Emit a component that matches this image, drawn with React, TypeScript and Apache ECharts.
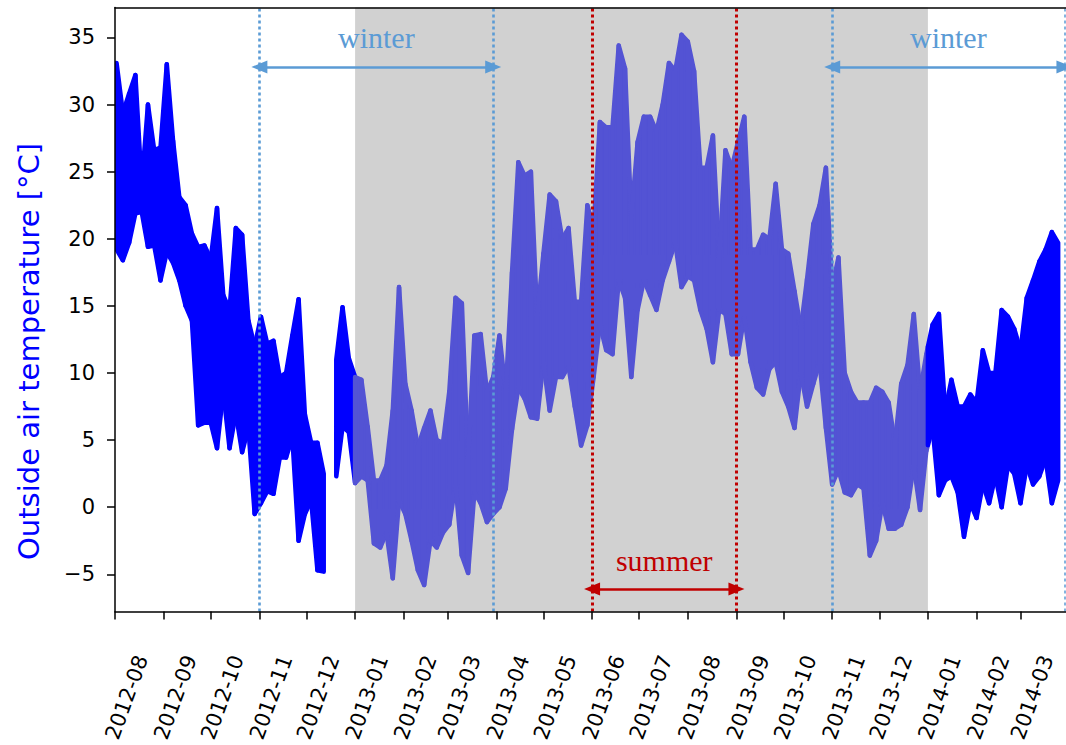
import React, { useEffect, useRef } from 'react';
import * as echarts from 'echarts';

// ---------- data ----------
const monthLabels = [
  '2012-08', '2012-09', '2012-10', '2012-11', '2012-12',
  '2013-01', '2013-02', '2013-03', '2013-04', '2013-05', '2013-06', '2013-07',
  '2013-08', '2013-09', '2013-10', '2013-11', '2013-12',
  '2014-01', '2014-02', '2014-03',
];
const yTicks = [-5, 0, 5, 10, 15, 20, 25, 30, 35];
const xRange = ['2012-08-01', '2014-03-30'];
const yRange = [-7.76, 37.23];

// Envelope of the measured temperature, one high and one low per 4-day block
const seriesStart = '2012-08-01';
const blockDays = 4;
const blockHighs: (number | null)[] = [
  33.1, 29.4, 30.8, 32.2, 24.0, 30.0, 26.6, 26.8, 33.0, 27.3,
  23.1, 22.5, 20.4, 19.4, 19.5, 18.5, 22.3, 15.8, 14.7, 20.8,
  20.3, 13.9, 12.0, 14.2, 12.2, 12.4, 9.7, 10.0, 12.8, 15.5,
  6.9, 4.8, 4.8, 2.5, null, 11.0, 14.9, 11.1, 9.7, 9.5,
  6.0, 2.0, 2.0, 3.1, 7.2, 16.4, 9.2, 7.2, 4.5, 5.9,
  7.2, 5.0, 4.8, 8.6, 15.6, 15.2, 3.6, 12.8, 12.9, 8.6,
  9.7, 12.8, 8.6, 17.5, 25.7, 24.7, 25.0, 14.2, 18.9, 23.3,
  22.8, 20.0, 20.8, 15.3, 15.3, 22.5, 20.8, 28.7, 28.3, 28.3,
  34.4, 32.7, 21.6, 27.2, 29.1, 29.1, 28.0, 30.0, 33.1, 32.5,
  35.2, 34.7, 32.5, 25.3, 25.3, 27.7, 18.6, 26.6, 25.3, 27.2,
  29.1, 19.2, 19.2, 20.3, 20.0, 24.1, 19.2, 18.9, 16.1, 13.3,
  17.0, 21.1, 22.5, 25.3, 16.4, 18.6, 10.0, 8.6, 7.8, 7.8,
  7.8, 8.9, 8.6, 7.8, 4.8, 9.2, 10.6, 14.4, 8.6, 11.4,
  13.6, 14.4, 7.2, 9.5, 7.5, 7.5, 8.4, 7.8, 11.7, 10.0,
  10.0, 14.7, 14.2, 13.3, 11.7, 15.6, 16.9, 18.3, 19.2, 20.5,
  19.7,
];
const blockLows: (number | null)[] = [
  19.2, 18.4, 19.7, 21.9, 22.0, 19.4, 19.5, 16.9, 19.0, 18.2,
  16.9, 15.0, 13.9, 6.1, 6.3, 6.3, 4.4, 8.6, 4.4, 7.0,
  4.1, 5.9, -0.5, 0.3, 1.2, 1.0, 3.7, 3.7, 5.2, -2.5,
  -0.5, 0.5, -4.7, -4.8, null, 2.3, 6.0, 5.6, 1.8, 2.3,
  2.0, -2.7, -3.0, -1.9, -5.3, 0.5, -0.5, -2.5, -4.7, -5.8,
  -2.5, -3.0, -1.9, -1.3, 1.7, -3.6, -4.9, 1.1, 0.3, -1.1,
  -0.5, 0.0, 1.4, 5.8, 8.9, 8.1, 6.7, 6.6, 10.8, 7.2,
  9.7, 9.7, 10.5, 7.5, 4.6, 6.1, 9.7, 13.6, 11.7, 11.4,
  16.9, 15.6, 9.7, 14.7, 16.9, 15.8, 14.7, 16.9, 18.3, 19.7,
  16.4, 17.2, 16.9, 14.7, 13.3, 10.8, 14.7, 14.4, 11.4, 11.4,
  14.2, 10.8, 8.9, 8.4, 10.3, 10.8, 8.6, 7.5, 5.9, 10.0,
  7.5, 9.2, 10.8, 5.9, 1.7, 2.8, 1.1, 0.9, 1.7, 1.4,
  -3.6, -2.5, 0.3, -1.6, -1.6, -1.3, 0.0, 3.1, -0.2, 4.2,
  5.9, 0.9, 2.0, 2.3, 1.1, -2.2, 0.3, -0.8, 1.7, 0.3,
  2.3, 0.0, 3.1, 2.5, 0.3, 3.1, 1.7, 2.3, 3.6, 0.3,
  2.0,
];

const shadeRange = ['2013-01-01', '2014-01-01'];
const winterSpans = [
  ['2012-11-01', '2013-03-30'],
  ['2013-11-01', '2014-03-29'],
];
const summerSpan = ['2013-06-01', '2013-09-01'];
const winterArrowLevel = 32.8;
const summerArrowLevel = -6.1;

// ---------- helpers ----------
const ts = (s: string, addDays = 0) => {
  const [y, m, d] = s.split('-').map(Number);
  return new Date(y, m - 1, (d || 1) + addDays).getTime();
};

const BLUE = '#0000ff';
const SHADED_BLUE = '#5353d4';
const GREY = '#d1d1d1';
const WINTER = '#5b9bd5';
const SUMMER = '#c00000';

export default function App() {
  const ref = useRef<HTMLDivElement>(null);

  useEffect(() => {
    if (!ref.current) return;
    const chart = echarts.init(ref.current, undefined, { renderer: 'svg' });

    const t0 = ts(shadeRange[0]);
    const t1 = ts(shadeRange[1]);

    // band segments: [t, low, high, tNext, lowNext, highNext]
    const segments: number[][] = [];
    for (let i = 0; i < blockHighs.length - 1; i++) {
      const h = blockHighs[i], l = blockLows[i];
      const hn = blockHighs[i + 1], ln = blockLows[i + 1];
      if (h == null || l == null || hn == null || ln == null) continue;
      segments.push([
        ts(seriesStart, i * blockDays + 1), l, h,
        ts(seriesStart, (i + 1) * blockDays + 1), ln, hn,
      ]);
    }

    const colorAt = (t: number) => (t >= t0 && t < t1 ? SHADED_BLUE : BLUE);

    const renderBand = (_params: any, api: any) => {
      const t = api.value(0), l = api.value(1), h = api.value(2);
      const tn = api.value(3), ln = api.value(4), hn = api.value(5);
      const poly = (a: number, la: number, ha: number, b: number, lb: number, hb: number, c: string) => ({
        type: 'polygon',
        shape: { points: [api.coord([a, ha]), api.coord([b, hb]), api.coord([b, lb]), api.coord([a, la])] },
        style: { fill: c, stroke: c, lineWidth: 4.5, lineJoin: 'round' },
      });
      const cuts = [t0, t1].filter((c) => c > t && c < tn);
      if (!cuts.length) return poly(t, l, h, tn, ln, hn, colorAt(t));
      const c = cuts[0];
      const f = (c - t) / (tn - t);
      const lc = l + (ln - l) * f, hc = h + (hn - h) * f;
      return {
        type: 'group',
        children: [poly(t, l, h, c, lc, hc, colorAt(t)), poly(c, lc, hc, tn, ln, hn, colorAt(c))],
      };
    };

    const monthTs = monthLabels.map((m) => ts(m));
    const labelOf = (v: number) => {
      const idx = monthTs.indexOf(v);
      if (idx >= 0) return monthLabels[idx];
      const d = new Date(v);
      return `${d.getFullYear()}-${String(d.getMonth() + 1).padStart(2, '0')}`;
    };

    const vLine = (date: string, color: string, width = 2.6) => ({
      xAxis: ts(date),
      lineStyle: { color, type: [3, 3], width },
      label: { show: false },
    });

    const arrow = (a: string, b: string, level: number, color: string, text: string) => [
      {
        coord: [ts(a), level],
        symbol: 'triangle',
        symbolSize: [13, 16],
        lineStyle: { color, type: 'solid', width: 2.6 },
        itemStyle: { color },
        label: {
          show: true,
          position: 'middle',
          formatter: text,
          color,
          fontSize: 30,
          fontFamily: 'Liberation Serif',
          distance: 14,
        },
      },
      { coord: [ts(b), level], symbol: 'triangle', symbolSize: [13, 16] },
    ];

    const option: any = {
      animation: false,
      backgroundColor: '#ffffff',
      grid: { left: 115, right: 0, top: 7.5, bottom: 133, containLabel: false },
      xAxis: [
        {
          type: 'value',
          z: 10,
          min: ts(xRange[0]),
          max: ts(xRange[1]),
          axisLine: { show: true, onZero: false, lineStyle: { color: '#000', width: 1.5 } },
          axisTick: {
            show: true,
            customValues: monthTs,
            length: 8,
            lineStyle: { color: '#000', width: 1.5 },
          },
          axisLabel: {
            customValues: monthTs,
            formatter: (v: number) => labelOf(v),
            rotate: 70,
            fontSize: 21,
            fontFamily: 'DejaVu Sans',
            color: '#000',
            margin: 35,
            verticalAlign: 'top',
            padding: [18, 0, 0, 0],
          },
          splitLine: { show: false },
        },
        {
          type: 'value',
          z: 10,
          position: 'top',
          min: 0,
          max: 1,
          axisLine: { show: true, onZero: false, lineStyle: { color: '#000', width: 1.5 } },
          axisTick: { show: false },
          axisLabel: { show: false },
          splitLine: { show: false },
        },
      ],
      yAxis: {
        type: 'value',
        z: 10,
        min: yRange[0],
        max: yRange[1],
        axisLine: { show: true, onZero: false, lineStyle: { color: '#000', width: 1.5 } },
        axisTick: {
          show: true,
          customValues: yTicks,
          length: 8,
          lineStyle: { color: '#000', width: 1.5 },
        },
        axisLabel: {
          customValues: yTicks,
          formatter: (v: number) => String(v).replace('-', '\u2212'),
          fontSize: 21,
          fontFamily: 'DejaVu Sans',
          color: '#000',
          margin: 20,
        },
        splitLine: { show: false },
        name: 'Outside air temperature [°C]',
        nameLocation: 'middle',
        nameGap: 72,
        nameTextStyle: {
          color: BLUE,
          fontSize: 29,
          fontFamily: 'DejaVu Sans',
          padding: [0, 84, 0, 0],
        },
      },
      series: [
        {
          type: 'line',
          data: [],
          z: 1,
          markArea: {
            silent: true,
            itemStyle: { color: GREY },
            data: [[{ xAxis: t0 }, { xAxis: t1 }]],
          },
        },
        {
          type: 'custom',
          z: 3,
          clip: true,
          silent: true,
          data: segments,
          encode: { x: [0, 3], y: [1, 2, 4, 5] },
          renderItem: renderBand,
        },
        {
          type: 'line',
          data: [],
          z: 6,
          markLine: {
            silent: true,
            symbol: 'none',
            animation: false,
            data: [
              vLine(winterSpans[0][0], WINTER),
              vLine(winterSpans[0][1], WINTER),
              vLine(summerSpan[0], SUMMER, 3),
              vLine(summerSpan[1], SUMMER, 3),
              vLine(winterSpans[1][0], WINTER),
              vLine(winterSpans[1][1], WINTER, 1.5),
              arrow(winterSpans[0][0], winterSpans[0][1], winterArrowLevel, WINTER, 'winter'),
              arrow(winterSpans[1][0], winterSpans[1][1], winterArrowLevel, WINTER, 'winter'),
              arrow(summerSpan[0], summerSpan[1], summerArrowLevel, SUMMER, 'summer'),
            ],
          },
        },
      ],
    };

    chart.setOption(option);
    return () => chart.dispose();
  }, []);

  return (
    <div
      ref={ref}
      style={{ position: 'absolute', left: 0, top: 0, width: 1066, height: 745, background: '#fff' }}
    />
  );
}
